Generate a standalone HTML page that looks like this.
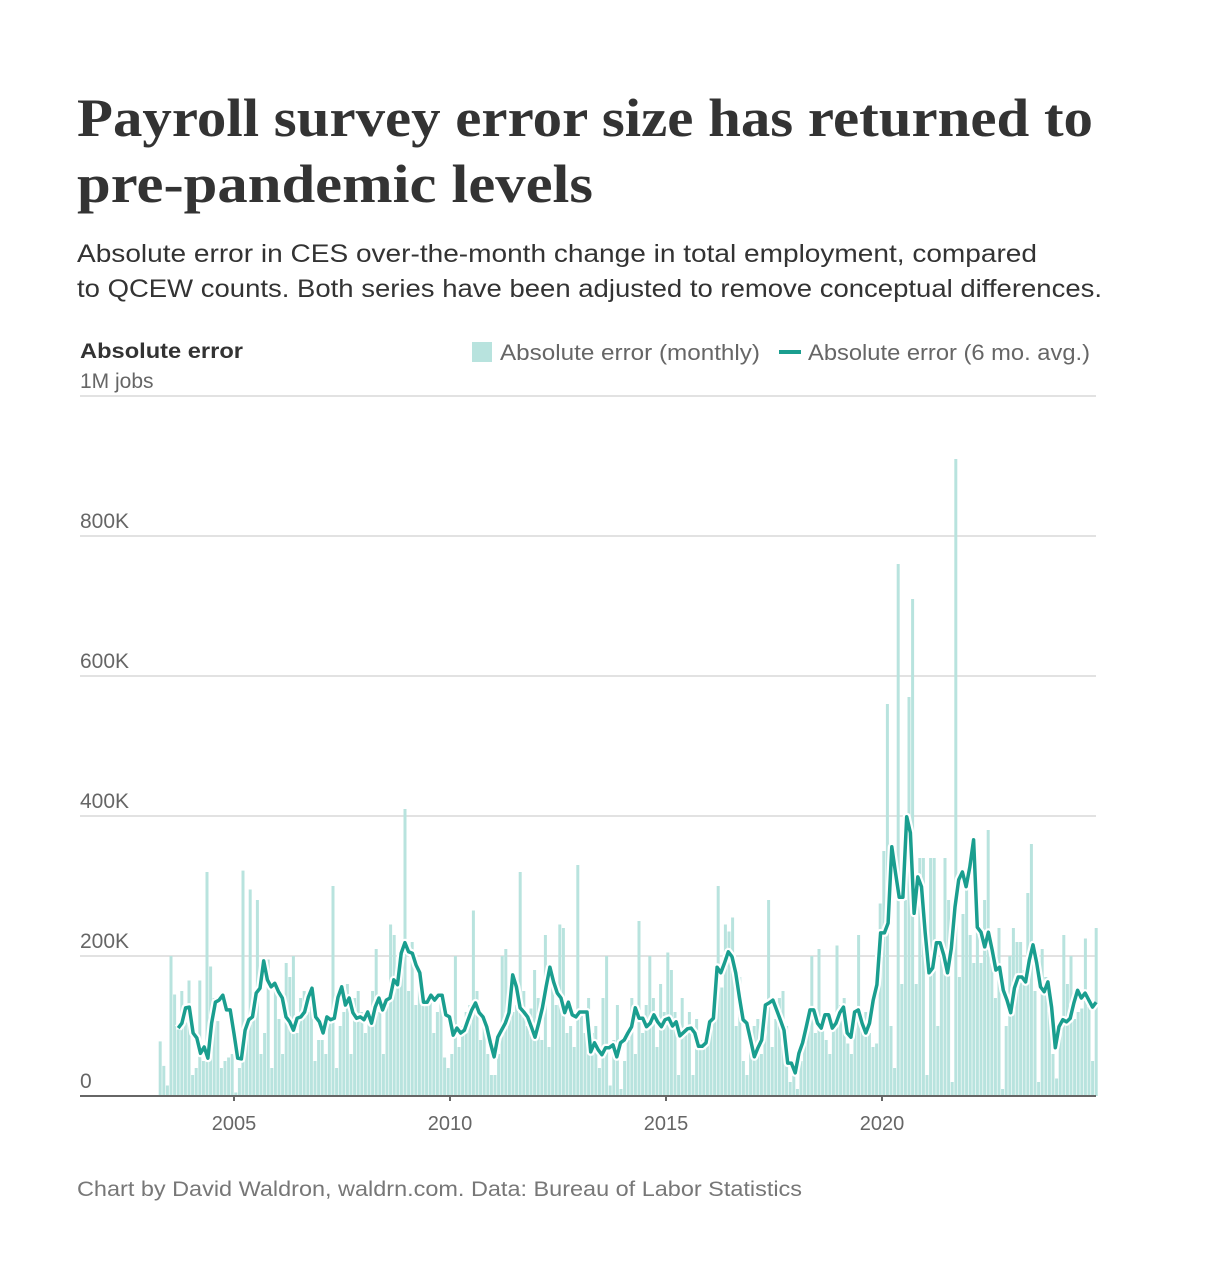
<!DOCTYPE html>
<html><head><meta charset="utf-8">
<style>
html,body{margin:0;padding:0;background:#fff;}
svg{display:block;}
text{font-family:"Liberation Sans",sans-serif;}
</style></head>
<body>
<svg id="chart" width="1216" height="1288" viewBox="0 0 1216 1288" xmlns="http://www.w3.org/2000/svg">
  <text x="77" y="136" style="font-family:'Liberation Serif',serif;font-weight:bold;font-size:54px;fill:#333" textLength="1016" lengthAdjust="spacingAndGlyphs">Payroll survey error size has returned to</text>
  <text x="77" y="202" style="font-family:'Liberation Serif',serif;font-weight:bold;font-size:54px;fill:#333" textLength="516" lengthAdjust="spacingAndGlyphs">pre-pandemic levels</text>
  <text x="77" y="262" style="font-size:25px;fill:#333" textLength="960" lengthAdjust="spacingAndGlyphs">Absolute error in CES over-the-month change in total employment, compared</text>
  <text x="77" y="297" style="font-size:25px;fill:#333" textLength="1025" lengthAdjust="spacingAndGlyphs">to QCEW counts. Both series have been adjusted to remove conceptual differences.</text>
  <text x="80" y="358" style="font-size:21px;font-weight:bold;fill:#333" textLength="163" lengthAdjust="spacingAndGlyphs">Absolute error</text>
  <g>
    <rect x="472" y="342" width="20" height="20" fill="#b8e3de"/>
    <text x="500" y="360" style="font-size:22px;fill:#666" textLength="260" lengthAdjust="spacingAndGlyphs">Absolute error (monthly)</text>
    <line x1="779" y1="352" x2="801" y2="352" stroke="#1a9e8f" stroke-width="4"/>
    <text x="808" y="360" style="font-size:22px;fill:#666" textLength="282" lengthAdjust="spacingAndGlyphs">Absolute error (6 mo. avg.)</text>
  </g>
  <g id="grid"></g>
  <g id="bars"></g>
  <g id="line"></g>
  <g id="xaxis"></g>
  <text x="77" y="1196" style="font-size:21px;fill:#777" textLength="725" lengthAdjust="spacingAndGlyphs">Chart by David Waldron, waldrn.com. Data: Bureau of Labor Statistics</text>
</svg>
<script>
// Monthly values in thousands, starting April 2003
const monthlyStartYear = 2003;
const monthlyStartMonth = 3; // 0-based (April)
const monthly = [
78,43,15,200,145,95,150,105,165,
30,40,165,50,320,185,140,107,40,50,55,60,
5,40,322,100,295,110,280,60,90,195,40,160,
110,60,190,170,200,90,140,150,120,130,50,80,
80,60,110,300,40,100,120,160,60,140,150,120,
90,110,150,210,120,60,130,245,230,190,200,410,
150,220,130,180,160,140,135,90,120,140,55,40,
60,200,70,100,120,130,265,150,80,100,60,30,
30,60,200,210,110,120,130,320,150,100,125,180,
140,80,230,70,170,130,245,240,90,100,70,330,
120,90,140,90,100,40,140,200,15,80,130,10,
50,80,140,60,250,90,130,200,140,70,160,120,
205,180,120,30,140,90,120,30,110,80,70,100,
110,115,300,155,245,235,255,100,170,50,30,80,
100,110,60,90,280,70,110,140,150,100,20,40,
10,50,90,125,200,90,210,110,80,60,100,215,
130,140,75,60,115,230,100,120,90,70,75,275,
350,560,100,40,760,160,280,570,710,160,340,340,
30,340,340,100,200,340,280,20,910,170,260,320,
230,190,300,190,280,380,190,140,240,10,100,200,
240,220,220,180,290,360,150,20,210,170,120,60,
25,90,230,160,200,110,120,125,225,140,50,240
];
// 6-month average (thousands), Sep 2003 through Dec 2024, sampled across that span
const avgStartOffset = 5;
const avg = [
97,104,126,127,90,83,61,70,54,104,134,137,144,123,123,90,54,53,94,109,113,147,154,193,166,156,161,149,140,113,106,94,111,113,120,141,154,
113,106,90,113,109,111,141,156,130,140,119,111,113,109,120,104,127,140,123,137,140,166,159,204,219,206,204,187,176,134,134,144,137,144,144,116,113,87,97,90,94,109,
123,133,119,113,99,76,56,84,94,104,119,173,156,126,120,113,99,84,104,126,156,184,163,147,140,119,134,116,113,120,120,120,63,76,66,59,69,69,73,56,76,80,
90,99,126,111,111,99,104,116,106,99,109,111,100,106,86,91,96,97,90,71,71,76,106,111,184,176,190,206,199,176,141,109,104,80,56,69,80,130,133,137,123,109,94,47,
47,33,61,76,99,123,123,104,97,116,116,97,104,119,127,90,84,120,123,104,90,104,137,159,233,233,247,356,319,284,284,399,376,261,313,299,233,176,183,219,219,201,176,
211,270,309,320,299,327,366,241,234,213,234,209,180,184,151,137,119,154,170,170,163,194,216,190,156,149,163,127,69,99,109,106,111,133,151,140,147,137,127,134
];
const yTicks = [0,200,400,600,800,1000];
const yTickLabels = ["0","200K","400K","600K","800K","1M jobs"];
const xTickYears = [2005,2010,2015,2020];

const NS = "http://www.w3.org/2000/svg";
const plotL = 80, plotR = 1096, y0 = 1096, pxPerK = 0.7;
const monthW = 3.6;
const x0 = 158.4; // left edge of April 2003
function yScale(v){ return y0 - v * pxPerK; }
function monthIndex(year, month){ return (year - monthlyStartYear) * 12 + (month - monthlyStartMonth); }
function xLeft(i){ return x0 + i * monthW; }
function xCenter(i){ return xLeft(i) + monthW / 2; }
function mk(tag, attrs, parent){ const e = document.createElementNS(NS, tag); for (const k in attrs) e.setAttribute(k, attrs[k]); parent.appendChild(e); return e; }

const grid = document.getElementById('grid');
yTicks.forEach((t, k) => {
  if (t > 0) {
    const gl = mk('line', {x1: plotL, x2: plotR, y1: yScale(t), y2: yScale(t), stroke: '#d9d9d9', 'stroke-width': 1.5}, grid);
    
    
  }
  const tl = mk('text', {x: 80, y: yScale(t) - 8, style: 'font-size:21px;fill:#666'}, grid);
  tl.textContent = yTickLabels[k];
  
  
});

const bars = document.getElementById('bars');
monthly.forEach((v, i) => {
  const r = mk('rect', {x: xLeft(i) + 0.3, y: yScale(v), width: monthW - 0.6, height: v * pxPerK, fill: '#b8e3de'}, bars);
  
  
});

const nMonths = monthly.length;
const lineG = document.getElementById('line');
const pts = avg.map((v, k) => {
  const idx = avgStartOffset + k * (nMonths - 1 - avgStartOffset) / (avg.length - 1);
  return xCenter(idx).toFixed(1) + ',' + yScale(v).toFixed(1);
}).join(' ');
const halo = mk('polyline', {points: pts, fill: 'none', stroke: '#fff', 'stroke-width': 8, 'stroke-linejoin': 'round'}, lineG);


const ln = mk('polyline', {points: pts, fill: 'none', stroke: '#1a9e8f', 'stroke-width': 3.5, 'stroke-linejoin': 'round'}, lineG);



const xa = document.getElementById('xaxis');
const axl = mk('line', {x1: plotL, x2: plotR, y1: y0, y2: y0, stroke: '#666', 'stroke-width': 2}, xa);


xTickYears.forEach(yr => {
  const x = xLeft(monthIndex(yr, 0));
  const tk = mk('line', {x1: x, x2: x, y1: y0, y2: y0 + 5, stroke: '#666', 'stroke-width': 2}, xa);
  
  
  const tl = mk('text', {x: x, y: 1130, 'text-anchor': 'middle', style: 'font-size:20px;fill:#666'}, xa);
  tl.textContent = yr;
  
  
});
</script>
</body></html>
